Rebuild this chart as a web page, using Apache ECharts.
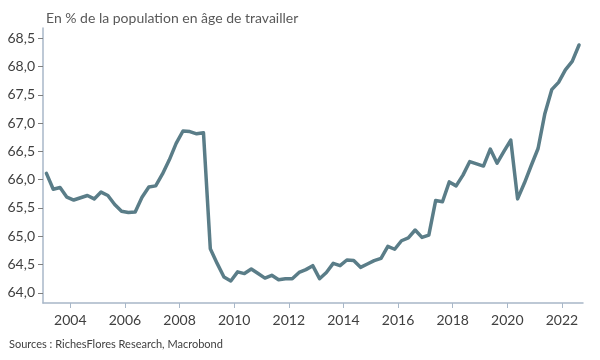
<!DOCTYPE html>
<html><head><meta charset="utf-8">
<script src="https://cdn.jsdelivr.net/npm/echarts@6/dist/echarts.min.js"></script>
<style>html,body{margin:0;padding:0;background:#fff}#c{width:600px;height:360px}</style>
</head><body><div id="c"></div>
<script>
// Quarterly series, 2003 T1 .. 2022 T3
const startYear = 2003;
const values = [
  66.11, 65.83, 65.86, 65.69, 65.64, 65.68, 65.72, 65.66,
  65.78, 65.72, 65.56, 65.44, 65.42, 65.43, 65.69, 65.87,
  65.89, 66.10, 66.35, 66.64, 66.86, 66.85, 66.81, 66.83,
  64.78, 64.52, 64.28, 64.21, 64.37, 64.34, 64.42, 64.34,
  64.26, 64.31, 64.23, 64.25, 64.25, 64.36, 64.41, 64.48,
  64.25, 64.36, 64.52, 64.48, 64.58, 64.57, 64.45, 64.51,
  64.57, 64.61, 64.82, 64.77, 64.92, 64.97, 65.11, 64.98,
  65.02, 65.63, 65.61, 65.96, 65.89, 66.08, 66.32, 66.28,
  66.24, 66.54, 66.29, 66.50, 66.70, 65.66, 65.94, 66.25,
  66.55, 67.17, 67.59, 67.72, 67.94, 68.09, 68.38
];
const xTicks = [2004, 2006, 2008, 2010, 2012, 2014, 2016, 2018, 2020, 2022];
const yTicks = [64, 64.5, 65, 65.5, 66, 66.5, 67, 67.5, 68, 68.5];
const titleText = "En % de la population en âge de travailler";
const sourceText = "Sources : RichesFlores Research, Macrobond";

// quarters placed at mid-quarter in decimal years
const seriesData = values.map((v, i) => [startYear + Math.floor(i / 4) + (i % 4) / 4 + 0.125, v]);

const font = "Lato, 'Open Sans', sans-serif";
const axisColor = "#a8b7c8";
const textColor = "#404040";

const chart = echarts.init(document.getElementById('c'), null, {renderer: 'canvas'});
chart.setOption({
  animation: false,
  title: [
    {text: titleText, left: 41, top: 6,
     textStyle: {fontFamily: font, fontSize: 14, fontWeight: 'normal', color: '#595959'}},
    {text: sourceText, left: 4, top: 334,
     textStyle: {fontFamily: font, fontSize: 11, fontWeight: 'normal', color: textColor}}
  ],
  grid: {left: 43, right: 17, top: 28, bottom: 57, containLabel: false},
  xAxis: {
    type: 'value', min: 2003, max: 2022.77,
    axisLine: {show: true, lineStyle: {color: axisColor, width: 1.5}},
    axisTick: {show: true, customValues: xTicks, length: 5, lineStyle: {color: axisColor}},
    axisLabel: {customValues: xTicks, formatter: v => String(v), margin: 10,
                fontFamily: font, fontSize: 14, color: textColor},
    splitLine: {show: false}
  },
  yAxis: {
    type: 'value', min: 63.82, max: 68.68,
    axisLine: {show: true, lineStyle: {color: axisColor, width: 1.5}},
    axisTick: {show: true, customValues: yTicks, length: 5, lineStyle: {color: '#7f7f7f'}},
    axisLabel: {customValues: yTicks, formatter: v => v.toFixed(1).replace('.', ','),
                margin: 8, fontFamily: font, fontSize: 14, color: textColor},
    splitLine: {show: false}
  },
  series: [{
    type: 'line', data: seriesData, showSymbol: false, symbol: 'none',
    lineStyle: {color: '#5a7d88', width: 3.5, join: 'round', cap: 'round'}
  }]
});
</script></body></html>
